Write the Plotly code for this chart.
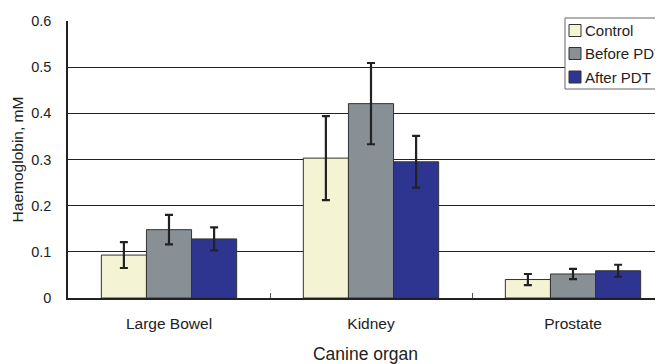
import plotly.graph_objects as go

categories = ["Large Bowel", "Kidney", "Prostate"]
series_names = ["Control", "Before PDT", "After PDT"]
control = [0.093, 0.303, 0.040]
control_err = [0.028, 0.091, 0.012]
before = [0.148, 0.421, 0.052]
before_err = [0.032, 0.088, 0.011]
after = [0.128, 0.295, 0.059]
after_err = [0.025, 0.056, 0.013]
y_ticks = [0, 0.1, 0.2, 0.3, 0.4, 0.5, 0.6]
y_tick_labels = ["0", "0.1", "0.2", "0.3", "0.4", "0.5", "0.6"]

colors = ["#F4F3D3", "#889096", "#2E3591"]
font_family = "Liberation Sans, Arial, sans-serif"
TXT = "#222222"

OFF = 8  # default page margin of the html body
W, H = 663 - OFF, 364 - OFF
ML, MR, MT, MB = 68 - OFF, 0, 21 - OFF, 364 - 298
PW, PH = W - ML - MR, H - MT - MB


def px_to_paper(x, y):
    # x, y given in window pixels
    return (x - OFF - ML) / PW, (H - MB - (y - OFF)) / PH


fig = go.Figure()
for name, vals, errs, col in zip(series_names, [control, before, after],
                                  [control_err, before_err, after_err], colors):
    fig.add_trace(go.Bar(
        x=categories, y=vals, name=name,
        marker=dict(color=col, line=dict(color="#333333", width=1)),
        error_y=dict(type="data", array=errs, visible=True,
                     color="#222222", thickness=2.2, width=4),
    ))

# manual legend (box clipped at the right edge like the reference)
shapes = []
annotations = []
bx0, by0 = px_to_paper(565, 89)
bx1, by1 = px_to_paper(720, 18)
shapes.append(dict(type="rect", xref="paper", yref="paper", x0=bx0, y0=by0, x1=bx1, y1=by1,
                   fillcolor="white", line=dict(color="#666666", width=1), layer="above"))
item_y = [30.5, 53.5, 77]
for name, col, yy in zip(series_names, colors, item_y):
    sx0, sy0 = px_to_paper(569, yy + 6)
    sx1, sy1 = px_to_paper(581, yy - 6)
    shapes.append(dict(type="rect", xref="paper", yref="paper", x0=sx0, y0=sy0, x1=sx1, y1=sy1,
                       fillcolor=col, line=dict(color="#333333", width=1), layer="above"))
    tx, ty = px_to_paper(583, yy)
    annotations.append(dict(text=name, xref="paper", yref="paper", x=tx, y=ty,
                            xanchor="left", yanchor="middle", showarrow=False,
                            font=dict(size=15, color=TXT, family=font_family)))

fig.update_layout(
    width=W, height=H,
    margin=dict(l=ML, r=MR, t=MT, b=MB),
    paper_bgcolor="white", plot_bgcolor="white",
    barmode="group", bargap=0.33, bargroupgap=0,
    font=dict(family=font_family, color=TXT),
    showlegend=False,
    shapes=shapes, annotations=annotations,
)
fig.update_xaxes(
    range=[-0.5, -0.5 + 595 / 202], automargin=False,
    showline=True, linecolor="#222222", linewidth=2,
    ticks="inside", tickson="boundaries", ticklen=5, tickcolor="#555555",
    ticklabelstandoff=10,
    tickfont=dict(size=15.5, color=TXT),
    title=dict(text="Canine organ", font=dict(size=17.5, color=TXT), standoff=20),
    showgrid=False,
)
fig.update_yaxes(
    range=[0, 0.6], automargin=False,
    tickvals=y_ticks, ticktext=y_tick_labels,
    showline=True, linecolor="#222222", linewidth=1.5,
    showgrid=True, gridcolor="#222222", gridwidth=1,
    ticks="", ticklabelstandoff=12,
    tickfont=dict(size=14.5, color=TXT),
    title=dict(text="Haemoglobin, mM", font=dict(size=15.5, color=TXT), standoff=4),
    zeroline=False,
)
fig.write_html("out.html")
